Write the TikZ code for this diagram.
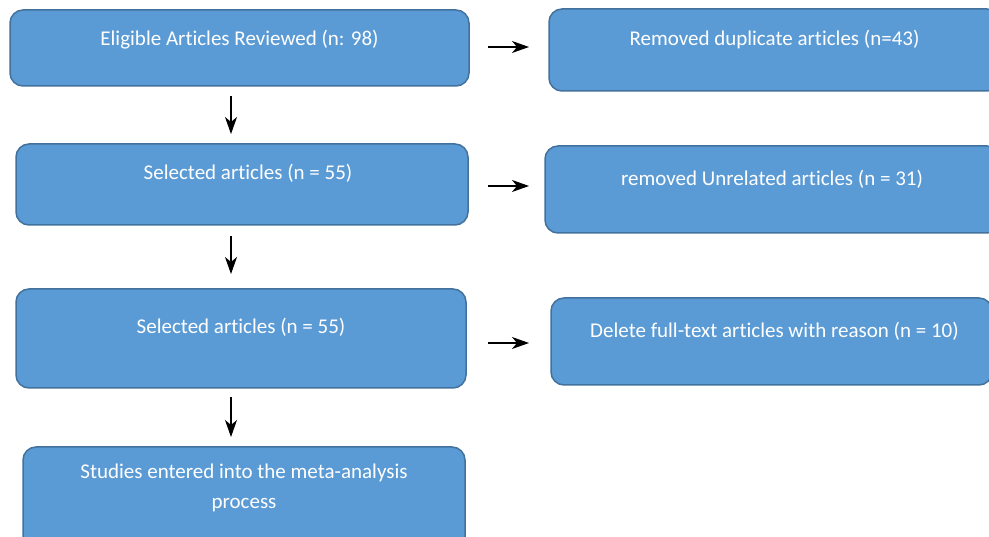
\documentclass[tikz,border=0pt]{standalone}
\usepackage{fontspec}
\setmainfont{Carlito}[Ligatures={NoCommon}]
\usetikzlibrary{arrows.meta}
\definecolor{boxfill}{HTML}{5B9BD5}
\definecolor{boxline}{HTML}{41719C}
\begin{document}
\begin{tikzpicture}[x=1pt,y=-1pt,
  flowbox/.style={draw=boxline,fill=boxfill,line width=1.5pt,rounded corners=13pt,inner sep=0pt},
  boxtext/.style={text=white,font=\fontsize{21}{30}\selectfont,align=center,inner sep=0pt},
  arr/.style={-{Stealth[length=17pt,width=12pt,inset=5pt]},line width=1.1pt}]
\useasboundingbox (0,0) rectangle (989,537);
\clip (0,0) rectangle (989,537);
% left column
\node[flowbox,minimum width=459pt,minimum height=76pt] (b1) at (239.5,48) {};
\node[boxtext] (t1) at (239.5,40) {Eligible Articles Reviewed (n: 98)};
\node[flowbox,minimum width=452pt,minimum height=81pt] (b2) at (242,184.5) {};
\node[boxtext] (t2) at (248,173) {Selected articles (n = 55)};
\node[flowbox,minimum width=450pt,minimum height=99pt] (b3) at (241,338.5) {};
\node[boxtext] (t3) at (241,327) {Selected articles (n = 55)};
\node[flowbox,minimum width=442pt,minimum height=110pt] (b4) at (244,502) {};
\node[boxtext] (t4) at (244,488) {Studies entered into the meta-analysis\\process};
% right column
\node[flowbox,minimum width=451pt,minimum height=82pt] (r1) at (774.5,50) {};
\node[boxtext] (s1) at (774.5,40) {Removed duplicate articles (n=43)};
\node[flowbox,minimum width=455pt,minimum height=87pt] (r2) at (772.5,189.5) {};
\node[boxtext] (s2) at (772,179) {removed Unrelated articles (n = 31)};
\node[flowbox,minimum width=441pt,minimum height=87pt] (r3) at (771.5,341.5) {};
\node[boxtext] (s3) at (774.5,331) {Delete full-text articles with reason (n = 10)};
% arrows
\coordinate (v1a) at (231,96);  \coordinate (v1b) at (231,134);
\coordinate (v2a) at (231,236); \coordinate (v2b) at (231,274);
\coordinate (v3a) at (231,397); \coordinate (v3b) at (231,437);
\coordinate (h1a) at (488,47);  \coordinate (h1b) at (529,47);
\coordinate (h2a) at (488,186); \coordinate (h2b) at (529,186);
\coordinate (h3a) at (488,343); \coordinate (h3b) at (529,343);
\draw[arr] (v1a) -- (v1b);
\draw[arr] (v2a) -- (v2b);
\draw[arr] (v3a) -- (v3b);
\draw[arr] (h1a) -- (h1b);
\draw[arr] (h2a) -- (h2b);
\draw[arr] (h3a) -- (h3b);
\end{tikzpicture}
\end{document}
